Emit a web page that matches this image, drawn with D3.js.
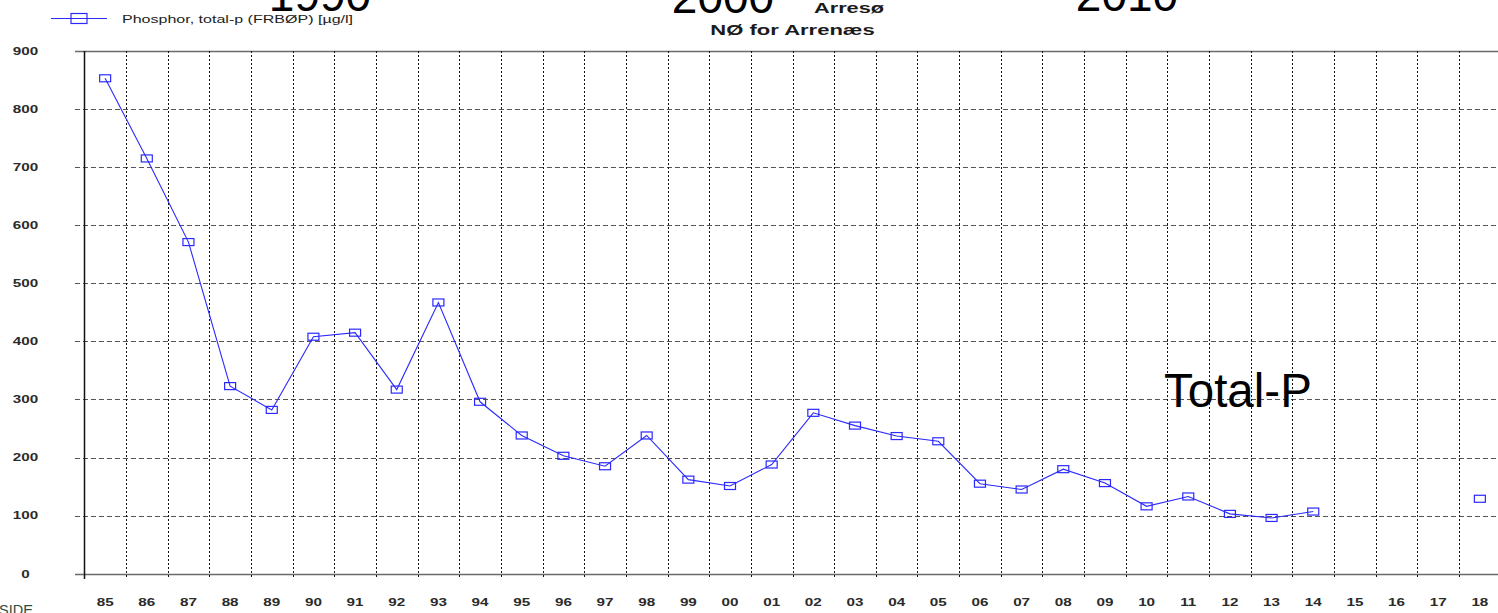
<!DOCTYPE html>
<html>
<head>
<meta charset="utf-8">
<script src="https://cdn.jsdelivr.net/npm/d3@7"></script>
<style>
  body { margin: 0; background: #fff; overflow: hidden; }
  svg { display: block; font-family: "Liberation Sans", Arial, sans-serif; }
</style>
</head>
<body>
<div id="wrapper"></div>
<script>
// data
const years = ["85","86","87","88","89","90","91","92","93","94","95","96","97","98","99",
  "00","01","02","03","04","05","06","07","08","09","10","11","12","13","14","15","16","17","18"];
const totalP = [853, 715, 571, 323, 282, 408, 415, 317, 467, 296, 238, 203, 185, 238, 162,
  151, 188, 277, 255, 237, 228, 155, 145, 180, 156, 116, 133, 103, 96, 107, null, null, null, 129];
const yTicks = [0, 100, 200, 300, 400, 500, 600, 700, 800, 900];
const legendLabel = "Phosphor, total-p (FRBØP) [µg/l]";
const decadeLabels = ["1990", "2000", "2010"];

function drawChart() {
  const dataset = years.map((y, i) => ({ year: y, value: totalP[i] }));

  const width = 1498;
  const height = 613;
  const dims = { left: 84.3, right: 1500.7, top: 51, bottom: 573.7 };
  const stretch = 1.45; // the original chart text is horizontally stretched
  const blue = "#2a2aff";

  const svg = d3.select("#wrapper")
    .append("svg")
    .attr("width", width)
    .attr("height", height);

  // scales
  const xScale = d3.scaleBand()
    .domain(years)
    .range([dims.left, dims.right]);

  const yScale = d3.scaleLinear()
    .domain([0, 900])
    .range([dims.bottom, dims.top]);

  // horizontal grid
  const hGrid = svg.append("g");
  hGrid.selectAll("line")
    .data(yTicks)
    .join("line")
    .attr("x1", 75)
    .attr("x2", width)
    .attr("y1", d => Math.round(yScale(d)) + 0.5)
    .attr("y2", d => Math.round(yScale(d)) + 0.5)
    .attr("stroke", d => (d === 0 || d === 900) ? "#6a6a6a" : "#555")
    .attr("stroke-width", d => (d === 0 || d === 900) ? 1.4 : 1)
    .attr("stroke-dasharray", d => (d === 0 || d === 900) ? null : "5,3");

  // vertical grid at band boundaries
  const boundaries = years.map(y => xScale(y));
  const vGrid = svg.append("g");
  vGrid.selectAll("line")
    .data(boundaries)
    .join("line")
    .attr("x1", d => Math.round(d) + 0.5)
    .attr("x2", d => Math.round(d) + 0.5)
    .attr("y1", dims.top)
    .attr("y2", 579)
    .attr("stroke", (d, i) => i === 0 ? "#111" : "#111")
    .attr("stroke-width", (d, i) => i === 0 ? 1.5 : 1)
    .attr("stroke-dasharray", (d, i) => i === 0 ? null : "2,2");

  // y labels
  svg.append("g")
    .selectAll("text")
    .data(yTicks)
    .join("text")
    .attr("transform", d => `translate(25.5,${yScale(d) + 3.8}) scale(${stretch},1)`)
    .attr("text-anchor", "middle")
    .attr("font-size", 10.5)
    .attr("font-weight", "bold")
    .attr("fill", "#2b2b2b")
    .text(d => d);

  // x labels
  svg.append("g")
    .selectAll("text")
    .data(years)
    .join("text")
    .attr("transform", d => `translate(${xScale(d) + xScale.bandwidth() / 2},606) scale(${stretch},1)`)
    .attr("text-anchor", "middle")
    .attr("font-size", 10.5)
    .attr("font-weight", "bold")
    .attr("fill", "#2b2b2b")
    .text(d => d);

  // data line
  const lineGenerator = d3.line()
    .defined(d => d.value != null)
    .x(d => xScale(d.year) + xScale.bandwidth() / 2)
    .y(d => yScale(d.value));

  svg.append("path")
    .datum(dataset)
    .attr("d", lineGenerator)
    .attr("fill", "none")
    .attr("stroke", blue)
    .attr("stroke-width", 1.1);

  const markerW = 11;
  const markerH = 7;
  svg.append("g")
    .selectAll("rect")
    .data(dataset.filter(d => d.value != null))
    .join("rect")
    .attr("x", d => xScale(d.year) + xScale.bandwidth() / 2 - markerW / 2)
    .attr("y", d => yScale(d.value) - markerH / 2)
    .attr("width", markerW)
    .attr("height", markerH)
    .attr("fill", "none")
    .attr("stroke", blue)
    .attr("stroke-width", 1.2);

  // legend
  const legend = svg.append("g");
  legend.append("line")
    .attr("x1", 51).attr("x2", 107)
    .attr("y1", 18.5).attr("y2", 18.5)
    .attr("stroke", blue);
  legend.append("rect")
    .attr("x", 71).attr("y", 13.5)
    .attr("width", 16).attr("height", 10)
    .attr("fill", "none")
    .attr("stroke", blue)
    .attr("stroke-width", 1.2);
  legend.append("text")
    .attr("transform", `translate(122,22.5) scale(1.42,1)`)
    .attr("font-size", 11.3)
    .attr("fill", "#222")
    .text(legendLabel);

  // titles
  svg.append("text")
    .attr("transform", `translate(849,13) scale(1.5,1)`)
    .attr("text-anchor", "middle")
    .attr("font-size", 14.5)
    .attr("font-weight", "bold")
    .attr("fill", "#1b1b1b")
    .text("Arresø");
  svg.append("text")
    .attr("transform", `translate(792.5,35) scale(1.52,1)`)
    .attr("text-anchor", "middle")
    .attr("font-size", 14.5)
    .attr("font-weight", "bold")
    .attr("fill", "#1b1b1b")
    .text("NØ for Arrenæs");

  // decade overlays
  const decadePos = [[320, 10.5], [723, 13], [1127, 10.5]];
  svg.append("g")
    .selectAll("text")
    .data(decadeLabels)
    .join("text")
    .attr("x", (d, i) => decadePos[i][0])
    .attr("y", (d, i) => decadePos[i][1])
    .attr("text-anchor", "middle")
    .attr("font-size", 46)
    .attr("fill", "#000")
    .text(d => d);

  svg.append("text")
    .attr("x", 1164)
    .attr("y", 407)
    .attr("font-size", 47.5)
    .attr("fill", "#000")
    .text("Total-P");

  svg.append("text")
    .attr("x", -1)
    .attr("y", 615)
    .attr("font-size", 14.5)
    .attr("fill", "#2e4d3e")
    .text("SIDE");
}
drawChart();
</script>
</body>
</html>
